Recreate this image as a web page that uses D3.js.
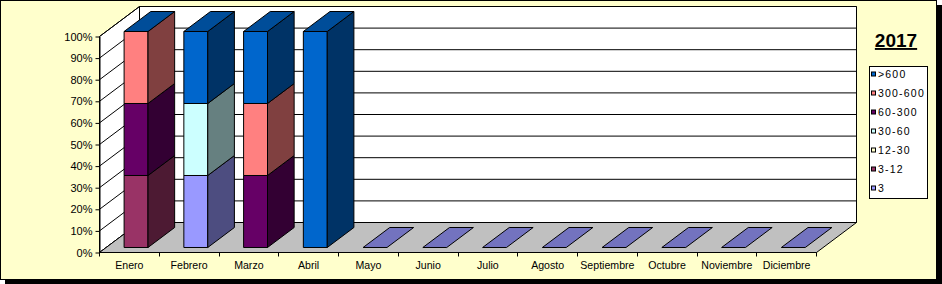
<!DOCTYPE html>
<html><head><meta charset="utf-8">
<script src="https://cdn.jsdelivr.net/npm/d3@7"></script>
<style>
html,body{margin:0;padding:0;background:#fff;}
svg{display:block;font-family:"Liberation Sans",Arial,sans-serif;}
</style></head>
<body><svg id="c" width="942" height="284"></svg>
<script>
// ---- data ----
const months = ["Enero","Febrero","Marzo","Abril","Mayo","Junio","Julio","Agosto","Septiembre","Octubre","Noviembre","Diciembre"];
const seriesNames = ["3","3-12","12-30","30-60","60-300","300-600",">600"];
const seriesColors = ["#9999FF","#993366","#FFFFCC","#CCFFFF","#660066","#FF8080","#0066CC"];
const s3      = [0,1,0,0,0,0,0,0,0,0,0,0];
const s3_12   = [1,0,0,0,0,0,0,0,0,0,0,0];
const s12_30  = [0,0,0,0,0,0,0,0,0,0,0,0];
const s30_60  = [0,1,0,0,0,0,0,0,0,0,0,0];
const s60_300 = [1,0,1,0,0,0,0,0,0,0,0,0];
const s300_600= [1,0,1,0,0,0,0,0,0,0,0,0];
const sGt600  = [0,1,1,1,0,0,0,0,0,0,0,0];
const seriesValues = [s3,s3_12,s12_30,s30_60,s60_300,s300_600,sGt600];
const yTicks = [0,0.1,0.2,0.3,0.4,0.5,0.6,0.7,0.8,0.9,1];
const title = "2017";

// ---- layout ----
const svg = d3.select("#c");
const DX = 40, DY = -30;           // depth projection of the plot
const tFront = 0.167, tBack = 0.833; // bar depth range
const P = (x, y, t) => [x + t*DX, y + t*DY];
const shade = (c, k) => { const r = d3.rgb(c); return d3.rgb(r.r*k, r.g*k, r.b*k).formatHex(); };

const x = d3.scaleBand().domain(months).range([99.5, 816.5]).paddingInner(0.6).paddingOuter(0.3);
const y = d3.scaleLinear().domain([0,1]).range([252.5, 36.5]);

// table for stacking
const table = months.map((m,i) => { const o = {month:m}; seriesNames.forEach((s,j)=>o[s]=seriesValues[j][i]); return o; });
const stacked = d3.stack().keys(seriesNames).offset(d3.stackOffsetExpand)(table);

// chart background + shadow
svg.append("rect").attr("x",5).attr("y",5).attr("width",937).attr("height",279).attr("fill","#000");
svg.append("rect").attr("x",0.5).attr("y",0.5).attr("width",936).attr("height",279).attr("fill","#FFFFCC").attr("stroke","#000");

const x0 = x.range()[0], x1 = x.range()[1];
const line = d3.line();
const poly = pts => line(pts) + "Z";

// back wall
const g = svg.append("g");
g.append("path").attr("d", poly([P(x0,y(0),1),P(x1,y(0),1),P(x1,y(1),1),P(x0,y(1),1)]))
  .attr("fill","#fff").attr("stroke","#000");
yTicks.forEach(v => g.append("path").attr("d", line([P(x0,y(v),1),P(x1,y(v),1)])).attr("stroke","#000").attr("fill","none"));
// left wall
g.append("path").attr("d", poly([P(x0,y(0),0),P(x0,y(0),1),P(x0,y(1),1),P(x0,y(1),0)]))
  .attr("fill","#fff").attr("stroke","#000");
yTicks.forEach(v => g.append("path").attr("d", line([P(x0,y(v),0),P(x0,y(v),1)])).attr("stroke","#000").attr("fill","none"));
// floor
g.append("path").attr("d", poly([P(x0,y(0),0),P(x1,y(0),0),P(x1,y(0),1),P(x0,y(0),1)]))
  .attr("fill","#C0C0C0").attr("stroke","#000");

// bars
const bw = x.bandwidth();
const bars = svg.append("g").attr("stroke","#000").attr("stroke-width",1).attr("stroke-linejoin","round");
months.forEach((m,i) => {
  const xl = x(m), xr = xl + bw;
  let total = 0; seriesValues.forEach(s => total += s[i]);
  stacked.forEach((ser, j) => {
    const d = ser[i];
    if (d[1] - d[0] <= 0) return;
    const c = seriesColors[j];
    bars.append("path").attr("d", poly([P(xl,y(d[0]),tFront),P(xr,y(d[0]),tFront),P(xr,y(d[1]),tFront),P(xl,y(d[1]),tFront)])).attr("fill", c);
    bars.append("path").attr("d", poly([P(xr,y(d[0]),tFront),P(xr,y(d[0]),tBack),P(xr,y(d[1]),tBack),P(xr,y(d[1]),tFront)])).attr("fill", shade(c,0.5));
  });
  const topV = total > 0 ? 1 : 0;
  const topColor = total > 0 ? seriesColors[seriesColors.length-1] : seriesColors[0];
  bars.append("path").attr("d", poly([P(xl,y(topV),tFront),P(xr,y(topV),tFront),P(xr,y(topV),tBack),P(xl,y(topV),tBack)])).attr("fill", shade(topColor,0.75));
});

// y axis
const yAxis = svg.append("g").attr("transform",`translate(${x0},0)`)
  .call(d3.axisLeft(y).tickValues(yTicks).tickFormat(d3.format(".0%")).tickSize(4).tickSizeOuter(0).tickPadding(3));
yAxis.selectAll("text").attr("font-size","11px").attr("fill","#000").attr("font-family","'Liberation Sans',Arial,sans-serif");
yAxis.select(".domain").attr("stroke","#000");

// x axis
const xAxisG = svg.append("g");
xAxisG.append("path").attr("d", line([[x0, y(0)],[x1, y(0)]])).attr("stroke","#000");
const step = x.step();
d3.range(months.length+1).forEach(i => {
  const xt = Math.round(x0 + i*step - 0.5) + 0.5;
  xAxisG.append("path").attr("d", line([[xt, y(0)],[xt, y(0)+4]])).attr("stroke","#000");
});
xAxisG.selectAll("text.lbl").data(months).join("text").attr("class","lbl")
  .attr("x", d => x(d) + bw/2).attr("y", 269).attr("text-anchor","middle")
  .attr("font-size","10.6px").attr("fill","#000").text(d => d);

// title
svg.append("text").attr("x",896).attr("y",47).attr("text-anchor","middle")
  .attr("font-size","19px").attr("font-weight","bold").attr("text-decoration","underline")
  .attr("fill","#000").text(title);

// legend
const lg = svg.append("g");
lg.append("rect").attr("x",869.5).attr("y",66.5).attr("width",58).attr("height",132).attr("fill","#fff").attr("stroke","#000");
const legendOrder = seriesNames.map((s,j)=>j).reverse();
legendOrder.forEach((j,k) => {
  const cy = 73.5 + k*19;
  lg.append("rect").attr("x",871.5).attr("y",cy-1.5).attr("width",4).attr("height",4).attr("fill",seriesColors[j]).attr("stroke","#000");
  lg.append("text").attr("x",878).attr("y",cy+4).attr("font-size","10.5px").attr("letter-spacing","1.2px").attr("fill","#000").text(seriesNames[j]);
});
</script></body></html>
